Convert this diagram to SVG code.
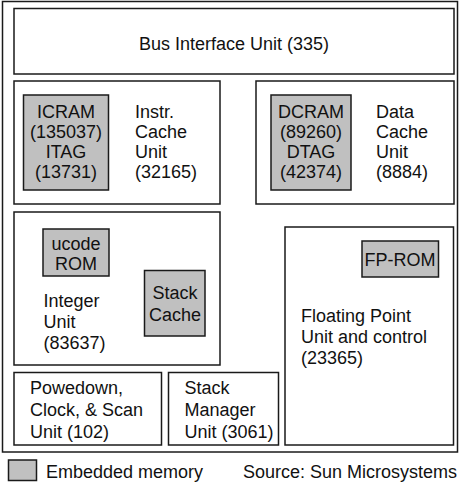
<svg xmlns="http://www.w3.org/2000/svg" width="461" height="482" viewBox="0 0 461 482">
<style>
.box{fill:#fff;stroke:#1a1a1a;stroke-width:1.5}
.mem{fill:#c0c0c0;stroke:#1a1a1a;stroke-width:1.5}
text{font-family:"Liberation Sans",Arial,sans-serif;font-size:18px;fill:#111}
.c{text-anchor:middle}
</style>
<g id="chip"><rect class="box" x="2.5" y="1.5" width="455" height="450.5"/></g>
<g id="biu"><rect class="box" x="14" y="8.5" width="440" height="65.5"/>
<text class="c" x="234" y="50">Bus Interface Unit (335)</text></g>
<g id="icache"><rect class="box" x="14" y="81" width="206" height="123"/>
<rect class="mem" x="23.5" y="95" width="85" height="95"/>
<text class="c" x="66" y="117.5">ICRAM</text><text class="c" x="66" y="137.5">(135037)</text><text class="c" x="66" y="157.5">ITAG</text><text class="c" x="66" y="177.5">(13731)</text>
<text x="135" y="117.5">Instr.</text><text x="135" y="137.5">Cache</text><text x="135" y="157.5">Unit</text><text x="135" y="177.5">(32165)</text></g>
<g id="dcache"><rect class="box" x="256" y="81" width="198" height="123"/>
<rect class="mem" x="271" y="95" width="80" height="95"/>
<text class="c" x="311" y="117.5">DCRAM</text><text class="c" x="311" y="137.5">(89260)</text><text class="c" x="311" y="157.5">DTAG</text><text class="c" x="311" y="177.5">(42374)</text>
<text x="376" y="117.5">Data</text><text x="376" y="137.5">Cache</text><text x="376" y="157.5">Unit</text><text x="376" y="177.5">(8884)</text></g>
<g id="iu"><rect class="box" x="14" y="212" width="206" height="153"/>
<rect class="mem" x="43" y="229" width="66" height="47"/>
<text class="c" x="76" y="249.5">ucode</text><text class="c" x="76" y="269.5">ROM</text>
<rect class="mem" x="144.5" y="270.5" width="60.5" height="65.5"/>
<text class="c" x="175" y="299">Stack</text><text class="c" x="175" y="320.5">Cache</text>
<text x="43.5" y="307">Integer</text><text x="43.5" y="328">Unit</text><text x="43.5" y="349">(83637)</text></g>
<g id="fpu"><rect class="box" x="285" y="227" width="168.5" height="218"/>
<rect class="mem" x="362" y="241" width="76.5" height="36"/>
<text class="c" x="400" y="265.5">FP-ROM</text>
<text x="301" y="321.5">Floating Point</text><text x="301" y="342.5">Unit and control</text><text x="301" y="364">(23365)</text></g>
<g id="pcs"><rect class="box" x="14" y="372.5" width="147.5" height="72.5"/>
<text x="30" y="393.5">Powedown,</text><text x="30" y="415.5">Clock, &amp; Scan</text><text x="30" y="437.5">Unit (102)</text></g>
<g id="smu"><rect class="box" x="168.5" y="372.5" width="110" height="72.5"/>
<text x="184.5" y="393.5">Stack</text><text x="184.5" y="415.5">Manager</text><text x="184.5" y="437.5">Unit (3061)</text></g>
<g id="connectors"></g>
<g id="legend"><rect class="mem" x="8.5" y="460" width="28" height="20.5"/>
<text x="46" y="478">Embedded memory</text>
<text x="457" y="478" text-anchor="end">Source: Sun Microsystems</text></g>
</svg>
